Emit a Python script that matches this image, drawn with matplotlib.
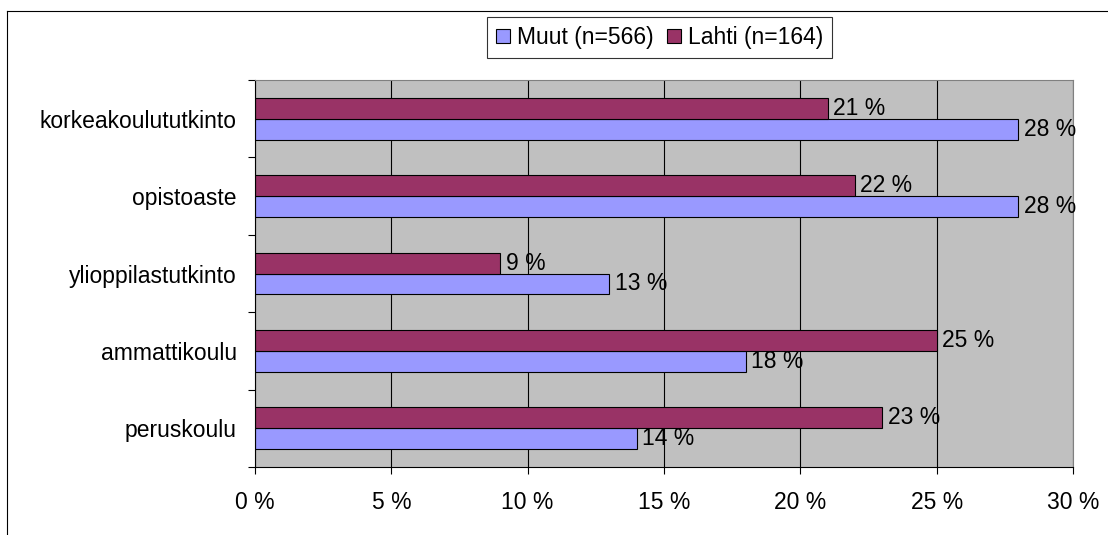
import matplotlib.pyplot as plt
from matplotlib.lines import Line2D
import numpy as np

plt.rcParams['font.family'] = ['Liberation Sans', 'DejaVu Sans']

# data, bottom to top
kategoriat = ['peruskoulu', 'ammattikoulu', 'ylioppilastutkinto', 'opistoaste', 'korkeakoulututkinto']
muut = [14, 18, 13, 28, 28]
lahti = [23, 25, 9, 22, 21]
sarjat = ['Muut (n=566)', 'Lahti (n=164)']
x_ticks = [0, 5, 10, 15, 20, 25, 30]

fs = 16.5

fig = plt.figure(figsize=(11.08, 5.35), dpi=100)
ax = fig.add_axes([255 / 1108, 1 - 467 / 535, (1073 - 255) / 1108, (467 - 80) / 535])
ax.set_facecolor('#C0C0C0')

# outer frame (left + top only visible)
fig.add_artist(Line2D([7 / 1108, 7 / 1108], [0, 1 - 11 / 535], color='black', lw=0.8, transform=fig.transFigure))
fig.add_artist(Line2D([7 / 1108, 1], [1 - 11 / 535, 1 - 11 / 535], color='black', lw=0.8, transform=fig.transFigure))

y = np.arange(len(kategoriat))
h = 0.27
ax.set_axisbelow(True)
ax.grid(axis='x', color='black', lw=0.8)
b_muut = ax.barh(y - h / 2, muut, height=h, color='#9999FF', edgecolor='black', lw=0.8, label=sarjat[0])
b_lahti = ax.barh(y + h / 2, lahti, height=h, color='#993366', edgecolor='black', lw=0.8, label=sarjat[1])

for bars, vals in [(b_muut, muut), (b_lahti, lahti)]:
    for b, v in zip(bars, vals):
        ax.annotate(f'{v} %', (v, b.get_y() + b.get_height() / 2), xytext=(4, 0),
                    textcoords='offset points', va='center', ha='left', fontsize=fs)

ax.set_xlim(0, 30)
ax.set_ylim(-0.5, len(kategoriat) - 0.5)
ax.set_xticks(x_ticks, [f'{t} %' for t in x_ticks], fontsize=fs)
ax.tick_params(axis='x', length=5, width=0.8, pad=12)
ax.set_yticks(y, kategoriat, fontsize=fs)
ax.tick_params(axis='y', which='major', length=0, pad=13)
ax.set_yticks(np.arange(len(kategoriat) + 1) - 0.5, minor=True)
ax.tick_params(axis='y', which='minor', length=5, width=0.8)

for s in ['top', 'right']:
    ax.spines[s].set_color('#808080')
for s in ['left', 'bottom']:
    ax.spines[s].set_color('black')
for s in ax.spines.values():
    s.set_linewidth(0.8)

handles = [b_muut, b_lahti]
leg = fig.legend(handles, sarjat, loc='upper left', bbox_to_anchor=(487 / 1108, 1 - 17 / 535),
                 ncol=2, fontsize=fs, frameon=True, fancybox=False, edgecolor='black',
                 handlelength=0.6, handleheight=0.6, handletextpad=0.3, columnspacing=0.6,
                 borderpad=0.4, borderaxespad=0)
leg.get_frame().set_linewidth(0.8)

fig.savefig('out.png', dpi=100)
